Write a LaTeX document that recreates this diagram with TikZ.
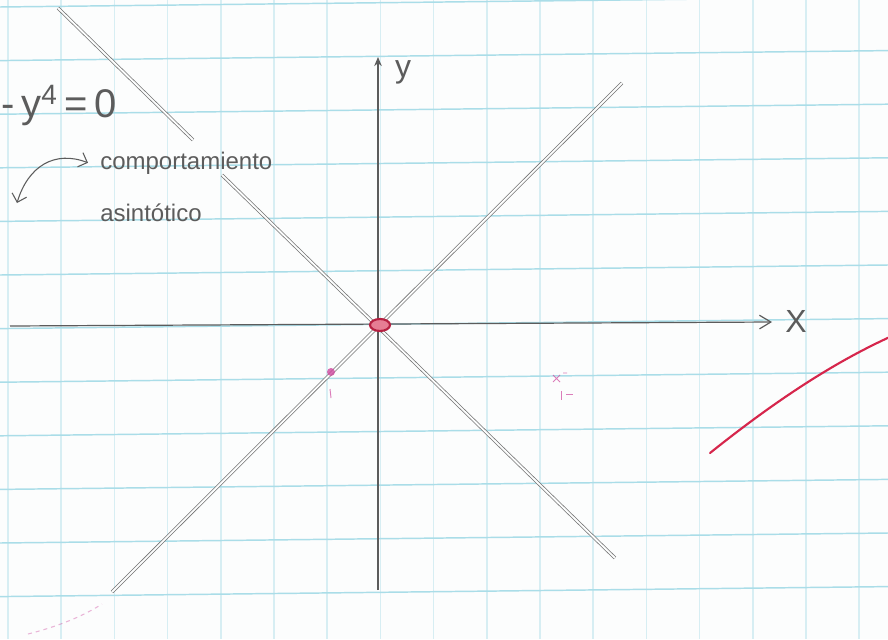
\documentclass[tikz,border=0pt]{standalone}
\usepackage{fontspec}
\setmainfont{Liberation Sans}
\usetikzlibrary{arrows.meta,positioning}
\definecolor{paper}{RGB}{252,253,253}
\definecolor{gridblue}{RGB}{170,221,232}
\definecolor{pencil}{RGB}{92,92,92}
\definecolor{inkred}{RGB}{214,38,76}
\definecolor{inkpink}{RGB}{206,72,158}

\begin{document}
\begin{tikzpicture}[x=0.75pt, y=-0.75pt,
  gridline/.style={gridblue, line width=1.1pt},
  axis/.style={pencil, line width=0.9pt},
  asym/.style={draw=pencil!85, double=paper, double distance=1.4pt, line width=0.55pt},
  hand/.style={pencil, inner sep=0pt, font=\fontsize{18}{20}\selectfont},
  bigmath/.style={pencil, inner sep=0pt, font=\fontsize{30}{32}\selectfont},
  redline/.style={inkred, line width=1.6pt, line cap=round},
  pinkmark/.style={inkpink, line width=0.7pt, opacity=0.7}
]
\fill[paper] (0,0) rectangle (888,639);
\useasboundingbox (0,0) rectangle (888,639);
\clip (0,0) rectangle (888,639);

% grid paper
\foreach \k in {0,...,11}
  \draw[gridline] (0,{7+53.6*\k}) -- (888,{-3+53.6*\k});
\foreach \k in {0,...,16}
  \draw[gridline, opacity=0.45] ({8+53.2*\k},0) -- ({8+53.2*\k},639);

% axes
\coordinate (O) at (380,325);
\coordinate (xfrom) at (10,326);
\coordinate (xto) at (772,322);
\coordinate (yfrom) at (378,590);
\coordinate (yto) at (378,57);
\draw[axis, -{Straight Barb[length=3mm, width=3.6mm]}] (xfrom) -- (xto);
\draw[axis, -{Stealth[length=2.4mm, width=2mm]}] (yfrom) -- (yto);
\node[hand, font=\fontsize{24}{26}\selectfont] (xlab) at (796,321) {X};
\node[hand, font=\fontsize{24}{26}\selectfont] (ylab) at (403,72) {y};

% asymptotes
\coordinate (ne) at (622,83);
\coordinate (sw) at (112,592);
\coordinate (nwa) at (58,8);
\coordinate (nwb) at (193,140);
\coordinate (nwc) at (222,175);
\coordinate (se) at (615,558);
\draw[asym] (sw) -- (ne);
\draw[asym] (nwa) -- (nwb);
\draw[asym] (nwc) -- (se);

% origin
\draw[inkred!85!black, line width=1.6pt, fill=inkred!60] (O) ellipse [x radius=10, y radius=6];

% labels
\node[bigmath, anchor=base west] (eq) at (1,117) {-\,y\textsuperscript{4}\,=\,0};
\node[hand, anchor=base west] (comp) at (100,169) {comportamiento};
\node[hand, below=39pt of comp.base west, anchor=base west] (asint) {asintótico};
\coordinate (arrfrom) at (17,203);
\draw[pencil, line width=0.8pt, {Straight Barb[length=2mm]}-{Straight Barb[length=2mm]}]
  (arrfrom) .. controls (28,166) and (55,150) .. ([xshift=-9pt]comp.west);

% red branch
\coordinate (bstart) at (710,453);
\coordinate (bend) at (892,336);
\draw[redline] (bstart) .. controls (770,405) and (830,364) .. (bend);

% pink marks
\fill[inkpink, opacity=0.8] (331,372) circle [radius=4];
\draw[pinkmark] (330,389) -- (331,398);
\draw[pinkmark] (553,375) -- (560,382) (553,382) -- (560,375) (563,373) -- (567,373);
\draw[pinkmark] (561,391) -- (561,400) (566,394) -- (573,394);
\draw[inkpink, opacity=0.4, dashed, line width=0.8pt]
  (28,634) .. controls (60,626) and (85,615) .. (102,604);
\end{tikzpicture}
\end{document}
